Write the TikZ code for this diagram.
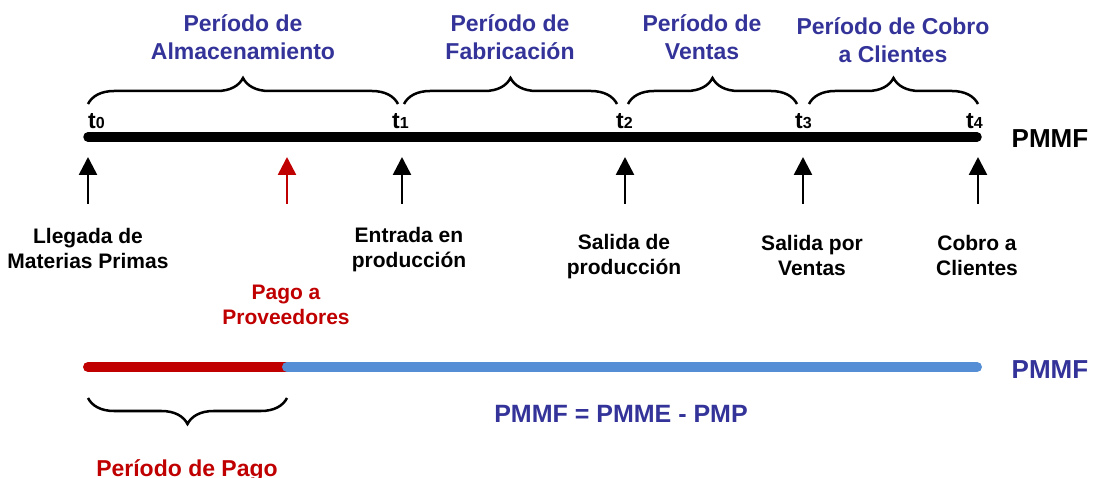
\documentclass[tikz,border=0pt]{standalone}
\usepackage{fontspec}
\setmainfont{Liberation Sans}
\usetikzlibrary{arrows.meta,decorations.pathreplacing}
\definecolor{tblue}{RGB}{51,51,153}
\definecolor{tred}{RGB}{192,0,0}
\definecolor{lblue}{RGB}{85,142,213}
\newcommand{\tsubx}[1]{{\fontsize{16}{16}\selectfont #1}}
\begin{document}
\begin{tikzpicture}[x=1pt,y=-1pt,
  ttl/.style={font=\bfseries\fontsize{23}{28}\selectfont,align=center,inner sep=0pt,text=tblue},
  lbl/.style={font=\bfseries\fontsize{21}{25}\selectfont,align=center,inner sep=0pt},
  tlab/.style={font=\bfseries\fontsize{23}{23}\selectfont,inner sep=0pt,anchor=base west},
  brc/.style={decorate,decoration={brace,amplitude=26pt},line width=2.5pt},
  uparrow/.style={-{Triangle[width=18pt,length=18pt]},line width=2.6pt},
  bar/.style={line width=10pt,line cap=round}]
\useasboundingbox (0,0) rectangle (1093,478);
% main time line
\coordinate (L0) at (88,137);
\coordinate (L4) at (977,137);
\draw[bar,line width=9.5pt] (L0) -- (L4);
\node[font=\bfseries\fontsize{26}{26}\selectfont,inner sep=0pt,anchor=base] (pm1) at (1050,148) {PMMF};
% t labels
\node[tlab] (t0) at (88,129) {t\tsubx{0}};
\node[tlab] (t1) at (392,129) {t\tsubx{1}};
\node[tlab] (t2) at (616,129) {t\tsubx{2}};
\node[tlab] (t3) at (795,129) {t\tsubx{3}};
\node[tlab] (t4) at (966,129) {t\tsubx{4}};
% braces
\coordinate (b1a) at (88,104);  \coordinate (b1b) at (398,104);
\coordinate (b2a) at (404,104); \coordinate (b2b) at (617,104);
\coordinate (b3a) at (628,104); \coordinate (b3b) at (797,104);
\coordinate (b4a) at (809,104); \coordinate (b4b) at (978,104);
\draw[brc] (b1a) -- (b1b);
\draw[brc] (b2a) -- (b2b);
\draw[brc] (b3a) -- (b3b);
\draw[brc] (b4a) -- (b4b);
% titles
\node[ttl] (p1) at (243,37) {Período de\\Almacenamiento};
\node[ttl] (p2) at (510,37) {Período de\\Fabricación};
\node[ttl] (p3) at (702,37) {Período de\\Ventas};
\node[ttl] (p4) at (893,40) {Período de Cobro\\a Clientes};
% arrows
\coordinate (a0b) at (88,204);  \coordinate (a0t) at (88,157);
\coordinate (apb) at (287,204); \coordinate (apt) at (287,157);
\coordinate (a1b) at (402,204); \coordinate (a1t) at (402,157);
\coordinate (a2b) at (625,204); \coordinate (a2t) at (625,157);
\coordinate (a3b) at (803,204); \coordinate (a3t) at (803,157);
\coordinate (a4b) at (978,204); \coordinate (a4t) at (978,157);
\draw[uparrow] (a0b) -- (a0t);
\draw[uparrow,tred] (apb) -- (apt);
\draw[uparrow] (a1b) -- (a1t);
\draw[uparrow] (a2b) -- (a2t);
\draw[uparrow] (a3b) -- (a3t);
\draw[uparrow] (a4b) -- (a4t);
% event labels
\node[lbl] (e0) at (88,248) {Llegada de\\Materias Primas};
\node[lbl] (e1) at (409,250) {Entrada en\\producción};
\node[lbl] (e2) at (624,257) {Salida de\\producción};
\node[lbl] (e3) at (812,255) {Salida por\\Ventas};
\node[lbl] (e4) at (977,255) {Cobro a\\Clientes};
\node[lbl,text=tred] (ep) at (286,305) {Pago a\\Proveedores};
% bottom bar
\coordinate (B0) at (88,367);
\coordinate (B1) at (287,367);
\coordinate (B2) at (977,367);
\draw[bar,tred] (B0) -- (B1);
\draw[bar,lblue] (B1) -- (B2);
\node[font=\bfseries\fontsize{26}{26}\selectfont,inner sep=0pt,anchor=base,text=tblue] (pm2) at (1050,379) {PMMF};
% payment brace
\coordinate (pa) at (287,398); \coordinate (pb) at (88,398);
\draw[brc] (pa) -- (pb);
\node[font=\bfseries\fontsize{23}{23}\selectfont,inner sep=0pt,anchor=base,text=tred] (pp) at (187,476) {Período de Pago};
\node[font=\bfseries\fontsize{25}{25}\selectfont,inner sep=0pt,anchor=base,text=tblue] (eq) at (621,422) {PMMF = PMME - PMP};
\end{tikzpicture}
\end{document}
